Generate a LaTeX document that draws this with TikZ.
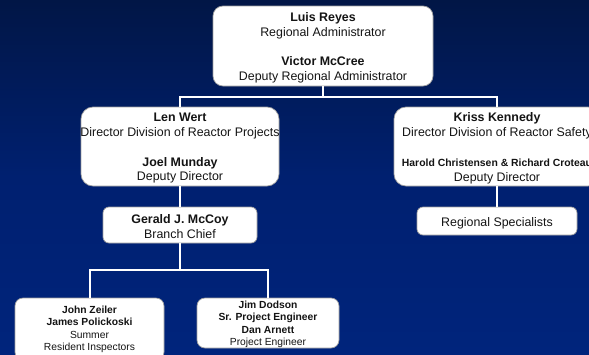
\documentclass[tikz,border=0pt]{standalone}
\usepackage{fontspec}
\setmainfont{Liberation Sans}
\usetikzlibrary{calc}
\begin{document}
\begin{tikzpicture}[x=1pt,y=-1pt,
  box/.style={draw=gray!75, line width=0.7pt, fill=white, inner sep=0pt},
  txt/.style={inner sep=0pt, align=center, text={rgb,255:red,20;green,20;blue,20}},
  bigfont/.style={font=\fontsize{12.4}{14.8}\selectfont},
  smallfont/.style={font=\fontsize{10.3}{12.4}\selectfont},
  link/.style={draw=white, line width=2pt}]
\useasboundingbox (0,0) rectangle (589,354);
\clip (0,0) rectangle (589,354);
\shade[top color={rgb,255:red,1;green,22;blue,70}, bottom color={rgb,255:red,0;green,36;blue,124}, middle color={rgb,255:red,0;green,32;blue,112}] (0,0) rectangle (589,354);

% boxes
\node[box, rounded corners=10pt, minimum width=220pt, minimum height=80pt] (top) at (323,46) {};
\node[box, rounded corners=12pt, minimum width=198pt, minimum height=79pt] (left) at (180,146.5) {};
\node[box, rounded corners=12pt, minimum width=206pt, minimum height=79pt] (right) at (497,146.5) {};
\node[box, rounded corners=6pt, minimum width=154pt, minimum height=36pt] (gerald) at (180,225) {};
\node[box, rounded corners=6pt, minimum width=160pt, minimum height=28pt] (spec) at (497,221) {};
\node[box, rounded corners=8pt, minimum width=149pt, minimum height=62pt] (bl) at (89.5,329) {};
\node[box, rounded corners=8pt, minimum width=142pt, minimum height=50pt] (bm) at (268,323) {};

% texts
\node[txt, bigfont] (topT) at ($(top)+(0,1.8)$)
  {\textbf{Luis Reyes}\\Regional Administrator\\[14.8pt]\textbf{Victor McCree}\\Deputy Regional Administrator};
\node[txt, bigfont] (leftT) at ($(left)+(0,1.8)$)
  {\textbf{Len Wert}\\Director Division of Reactor Projects\\[14.8pt]\textbf{Joel Munday}\\Deputy Director};
\node[txt, bigfont] (rightT) at ($(right)+(0,1.8)$)
  {\textbf{Kriss Kennedy}\\Director Division of Reactor Safety\\[14.8pt]{\fontsize{10.4}{12}\selectfont\bfseries Harold Christensen \& Richard Croteau}\\Deputy Director};
\node[txt, bigfont] (geraldT) at ($(gerald)+(0,1.5)$)
  {\textbf{Gerald J. McCoy}\\Branch Chief};
\node[txt, bigfont] (specT) at ($(spec)+(0,1.8)$) {Regional Specialists};
\node[txt, smallfont] (blT) at ($(bl)+(0,0.5)$)
  {\textbf{John Zeiler}\\\textbf{James Polickoski}\\Summer\\Resident Inspectors};
\node[txt, smallfont] (bmT) at ($(bm)+(0,1.5)$)
  {\textbf{Jim Dodson}\\\textbf{Sr. Project Engineer}\\\textbf{Dan Arnett}\\Project Engineer};

% connectors
\coordinate (bus1) at (323,97);
\coordinate (bus2) at (180,270);
\begin{scope}[on background layer/.style={}]
\end{scope}
\draw[link] (top.south) -- (bus1);
\draw[link] (left.north) |- (bus1) -| (right.north);
\draw[link] (left.south) -- (gerald.north);
\draw[link] (right.south) -- (spec.north);
\draw[link] (gerald.south) -- (bus2);
\draw[link] (bl.north) |- (bus2) -| (bm.north);
\end{tikzpicture}
\end{document}
